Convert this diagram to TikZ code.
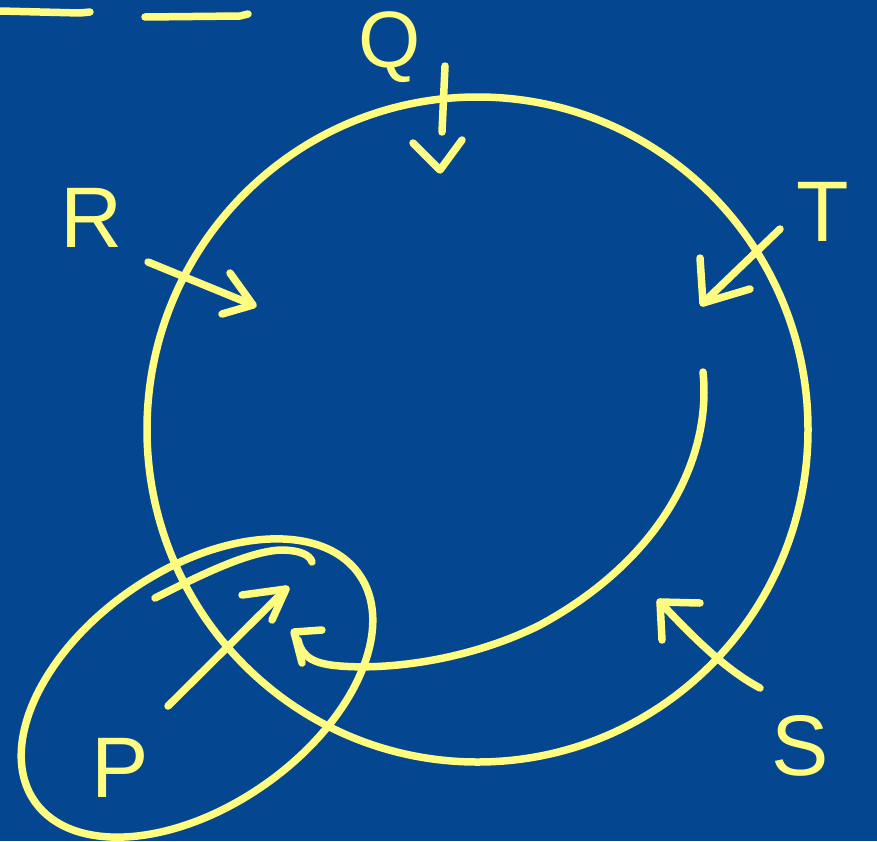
\documentclass[tikz,border=0pt]{standalone}
\usepackage{fontspec}
\setmainfont{Liberation Sans}
\definecolor{bg}{RGB}{4,70,143}
\definecolor{ink}{RGB}{255,252,128}
\begin{document}
\begin{tikzpicture}[x=1pt,y=-1pt,
  pen/.style={draw=ink,line width=7.5pt,line cap=round,line join=round},
  letter/.style={text=ink,font=\fontsize{86}{86}\selectfont,inner sep=0pt}]
\fill[bg] (0,0) rectangle (877,841);
\useasboundingbox (0,0) rectangle (877,841);
% top-left strokes
\draw[pen] (0,11) -- (80,13) -- (90,12);
\draw[pen] (145,17) -- (240,16) -- (248,14);
% big circle
\draw[pen] (477.5,429.5) ellipse[x radius=330.5,y radius=332.5];
% P ellipse
\draw[pen] (197,688) ellipse[x radius=198,y radius=118,rotate=35];
\draw[pen] (155,598) .. controls (210,570) and (250,552) .. (280,550) .. controls (300,550) and (310,555) .. (312,562);
% labels
\node[letter,font=\fontsize{80}{80}\selectfont] (Q) at (390,47) {Q};
\node[letter] (R) at (92,218) {R};
\node[letter] (T) at (823,212) {T};
\node[letter] (S) at (800,746) {S};
\node[letter] (P) at (120,768) {P};
% Q arrow
\coordinate (qs) at (445,66);
\coordinate (qt) at (440,170);
\draw[pen] (qs) -- (442,132);
\draw[pen] (413,143) -- (qt) -- (462,140);
% R arrow
\coordinate (rs) at (148,262);
\coordinate (rt) at (253,305);
\draw[pen] (rs) -- (rt);
\draw[pen] (230,273) -- (rt) -- (222,314);
% T arrow
\coordinate (ts) at (780,229);
\coordinate (tt) at (703,303);
\draw[pen] (ts) -- (tt);
\draw[pen] (700,258) -- (tt) -- (750,289);
% S arrow
\coordinate (ss) at (760,688);
\coordinate (st) at (660,602);
\draw[pen] (ss) .. controls (730,672) and (700,645) .. (st);
\draw[pen] (662,640) -- (st) -- (700,603);
% P arrow
\coordinate (ps) at (168,706);
\coordinate (pt) at (286,589);
\draw[pen] (ps) -- (pt);
\draw[pen] (242,595) -- (pt) -- (272,620);
% long curve with head at the P ellipse
\coordinate (cs) at (703,372);
\coordinate (ct) at (298,640);
\draw[pen] (cs) .. controls (712,460) and (660,560) .. (540,625) .. controls (470,660) and (390,670) .. (340,666) .. controls (315,664) and (302,658) .. (ct);
\draw[pen] (322,630) -- (294,632) -- (302,663);
\end{tikzpicture}
\end{document}
